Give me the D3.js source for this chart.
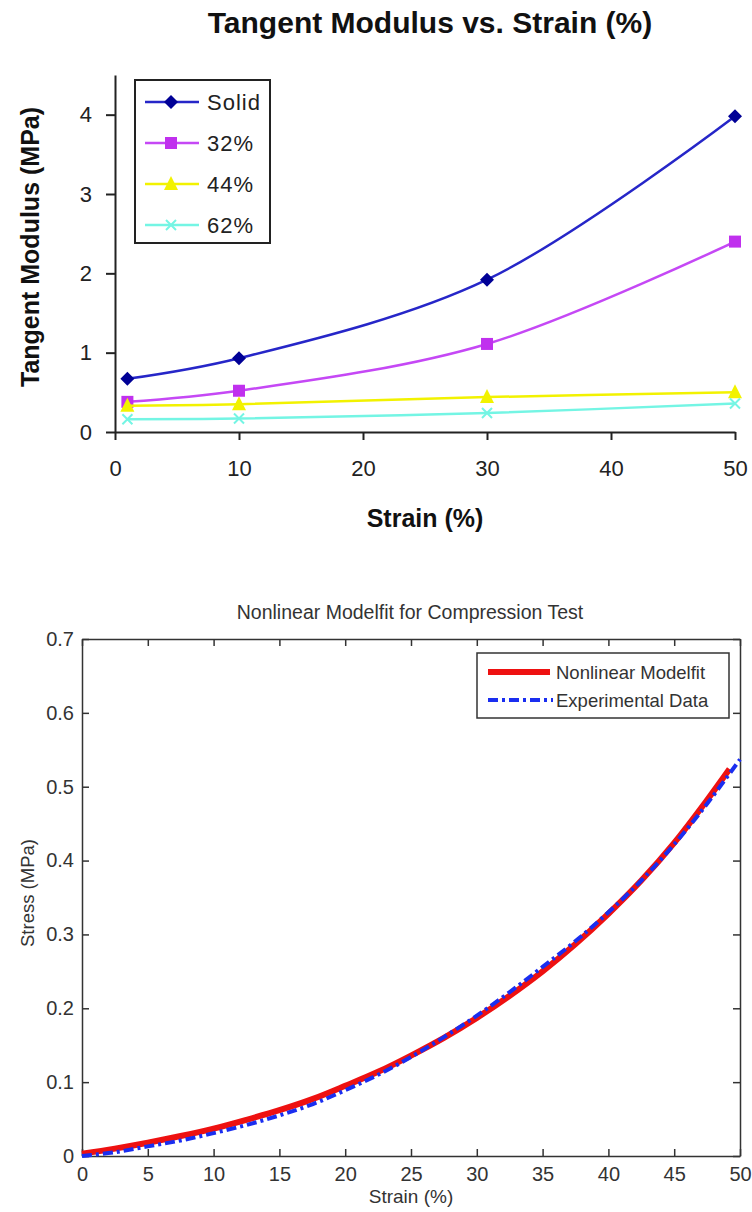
<!DOCTYPE html>
<html>
<head>
<meta charset="utf-8">
<script src="https://cdn.jsdelivr.net/npm/d3@7"></script>
<style>
  body { margin: 0; background: #fff; }
  svg { display: block; }
  text { font-family: "Liberation Sans", Arial, sans-serif; }
</style>
</head>
<body>
<div id="chart"></div>
<script>
// --- top chart data (Excel style) ---
var strainPts = [1, 10, 30, 50];
var seriesNames = ["Solid", "32%", "44%", "62%"];
var solidVals = [0.67, 0.93, 1.92, 3.98];
var p32Vals = [0.38, 0.52, 1.11, 2.40];
var p44Vals = [0.33, 0.35, 0.44, 0.50];
var p62Vals = [0.16, 0.17, 0.24, 0.36];
var topXTicks = [0, 10, 20, 30, 40, 50];
var topYTicks = [0, 1, 2, 3, 4];

// --- bottom chart data (MATLAB style) ---
var fitStrain = [0, 2.5, 5, 7.5, 10, 12.5, 15, 17.5, 20, 22.5, 25, 27.5, 30, 32.5, 35, 37.5, 40, 42.5, 45, 47.5, 49.2];
var fitStress = [0.003, 0.010, 0.018, 0.027, 0.037, 0.049, 0.062, 0.077, 0.095, 0.114, 0.136, 0.160, 0.187, 0.217, 0.250, 0.287, 0.328, 0.373, 0.424, 0.482, 0.524];
var expStrain = [0, 2.5, 5, 7.5, 10, 12.5, 15, 17.5, 20, 22.5, 25, 27.5, 30, 32.5, 35, 37.5, 40, 42.5, 45, 47.5, 50];
var expStress = [0.000, 0.005, 0.013, 0.021, 0.031, 0.042, 0.055, 0.070, 0.089, 0.110, 0.134, 0.161, 0.190, 0.222, 0.256, 0.291, 0.330, 0.373, 0.422, 0.477, 0.537];
var botXTicks = [0, 5, 10, 15, 20, 25, 30, 35, 40, 45, 50];
var botYTicks = [0, 0.1, 0.2, 0.3, 0.4, 0.5, 0.6, 0.7];

var width = 752, height = 1212;

var svg = d3.select("#chart").append("svg")
    .attr("width", width)
    .attr("height", height);

// ================= top chart =================
var x = d3.scaleLinear().domain([0, 50]).range([115, 735]);
var y = d3.scaleLinear().domain([0, 4.5]).range([432, 75]);

var lineColors = ["#2626c8", "#c548f5", "#f2f200", "#74f5e4"];
var markColors = ["#000096", "#c030ee", "#f2f200", "#74f5e4"];
var allVals = [solidVals, p32Vals, p44Vals, p62Vals];

svg.append("text")
    .attr("x", 430).attr("y", 33)
    .attr("text-anchor", "middle")
    .attr("font-size", "30px").attr("font-weight", "bold")
    .attr("fill", "#111")
    .text("Tangent Modulus vs. Strain (%)");

var gy = svg.append("g")
    .attr("transform", "translate(115,0)")
    .call(d3.axisLeft(y).tickValues(topYTicks).tickSize(9).tickSizeOuter(0).tickPadding(14).tickFormat(d3.format("d")));
var gx = svg.append("g")
    .attr("transform", "translate(0,432)")
    .call(d3.axisBottom(x).tickValues(topXTicks).tickSize(8).tickSizeOuter(0).tickPadding(20).tickFormat(d3.format("d")));
[gx, gy].forEach(function (g) {
    g.selectAll("path, line").attr("stroke", "#222").attr("stroke-width", 2);
    g.selectAll("text").attr("font-size", "22px").attr("fill", "#222")
        .attr("font-family", "'Liberation Sans', Arial, sans-serif");
});

svg.append("text")
    .attr("x", 425).attr("y", 527)
    .attr("text-anchor", "middle")
    .attr("font-size", "25px").attr("font-weight", "bold").attr("fill", "#111")
    .text("Strain (%)");

svg.append("text")
    .attr("transform", "translate(39,247)rotate(-90)")
    .attr("text-anchor", "middle")
    .attr("font-size", "25px").attr("font-weight", "bold").attr("fill", "#111")
    .text("Tangent Modulus (MPa)");

var smooth = d3.line()
    .x(function (d) { return x(d[0]); })
    .y(function (d) { return y(d[1]); })
    .curve(d3.curveCatmullRom.alpha(0.5));

function drawMarker(g, i, cx, cy) {
    if (i === 0) {
        g.append("path").attr("d", "M" + cx + "," + (cy - 7) + "L" + (cx + 7) + "," + cy + "L" + cx + "," + (cy + 7) + "L" + (cx - 7) + "," + cy + "Z")
            .attr("fill", markColors[0]);
    } else if (i === 1) {
        g.append("rect").attr("x", cx - 6).attr("y", cy - 6).attr("width", 12).attr("height", 12)
            .attr("fill", markColors[1]);
    } else if (i === 2) {
        g.append("path").attr("d", "M" + cx + "," + (cy - 8) + "L" + (cx + 7) + "," + (cy + 6) + "L" + (cx - 7) + "," + (cy + 6) + "Z")
            .attr("fill", markColors[2]);
    } else {
        g.append("path").attr("d", "M" + (cx - 5) + "," + (cy - 5) + "L" + (cx + 5) + "," + (cy + 5) + "M" + (cx + 5) + "," + (cy - 5) + "L" + (cx - 5) + "," + (cy + 5))
            .attr("stroke", markColors[3]).attr("stroke-width", 2);
    }
}

var plot = svg.append("g");
allVals.forEach(function (vals, i) {
    var pts = strainPts.map(function (s, j) { return [s, vals[j]]; });
    plot.append("path")
        .attr("d", smooth(pts))
        .attr("fill", "none")
        .attr("stroke", lineColors[i])
        .attr("stroke-width", 2.5);
    pts.forEach(function (p) { drawMarker(plot, i, x(p[0]), y(p[1])); });
});

// legend top
var leg = svg.append("g");
leg.append("rect").attr("x", 135).attr("y", 80).attr("width", 135).attr("height", 163)
    .attr("fill", "#fff").attr("stroke", "#222").attr("stroke-width", 2);
seriesNames.forEach(function (name, i) {
    var ly = 102 + i * 41;
    leg.append("line").attr("x1", 145).attr("x2", 199).attr("y1", ly).attr("y2", ly)
        .attr("stroke", lineColors[i]).attr("stroke-width", 2.5);
    drawMarker(leg, i, 171, ly);
    leg.append("text").attr("x", 207).attr("y", ly + 8)
        .attr("font-size", "22px").attr("fill", "#222").attr("letter-spacing", "1px")
        .text(name);
});

// ================= bottom chart =================
var x2 = d3.scaleLinear().domain([0, 50]).range([82, 740]);
var y2 = d3.scaleLinear().domain([0, 0.7]).range([1156, 639]);

svg.append("text")
    .attr("x", 410).attr("y", 619)
    .attr("text-anchor", "middle")
    .attr("font-size", "19.5px").attr("fill", "#333")
    .text("Nonlinear Modelfit for Compression Test");

svg.append("rect")
    .attr("x", 82).attr("y", 639).attr("width", 658).attr("height", 517)
    .attr("fill", "#fff");

var b = svg.append("g");
var bxB = b.append("g").attr("transform", "translate(0,1156)")
    .call(d3.axisBottom(x2).tickValues(botXTicks).tickSize(-7).tickSizeOuter(0).tickPadding(11).tickFormat(d3.format("d")));
var bxT = b.append("g").attr("transform", "translate(0,639)")
    .call(d3.axisTop(x2).tickValues(botXTicks).tickSize(-7).tickSizeOuter(0).tickFormat(""));
var byL = b.append("g").attr("transform", "translate(82,0)")
    .call(d3.axisLeft(y2).tickValues(botYTicks).tickSize(-7).tickSizeOuter(0).tickPadding(8).tickFormat(function (d) { return d === 0 ? "0" : d3.format(".1f")(d); }));
var byR = b.append("g").attr("transform", "translate(740,0)")
    .call(d3.axisRight(y2).tickValues(botYTicks).tickSize(-7).tickSizeOuter(0).tickFormat(""));
[bxB, bxT, byL, byR].forEach(function (g) {
    g.selectAll("path, line").attr("stroke", "#333").attr("stroke-width", 1.5);
    g.selectAll("text").attr("font-size", "20px").attr("fill", "#333")
        .attr("font-family", "'Liberation Sans', Arial, sans-serif");
});

svg.append("text")
    .attr("x", 411).attr("y", 1203)
    .attr("text-anchor", "middle")
    .attr("font-size", "19px").attr("fill", "#333")
    .text("Strain (%)");
svg.append("text")
    .attr("transform", "translate(34,893)rotate(-90)")
    .attr("text-anchor", "middle")
    .attr("font-size", "18.5px").attr("fill", "#333")
    .text("Stress (MPa)");

var line2 = d3.line()
    .x(function (d) { return x2(d[0]); })
    .y(function (d) { return y2(d[1]); })
    .curve(d3.curveCatmullRom.alpha(0.5));

var fitPts = fitStrain.map(function (s, i) { return [s, fitStress[i]]; });
var expPts = expStrain.map(function (s, i) { return [s, expStress[i]]; });

b.append("path").attr("d", line2(fitPts))
    .attr("fill", "none").attr("stroke", "#ee1111").attr("stroke-width", 6);
b.append("path").attr("d", line2(expPts))
    .attr("fill", "none").attr("stroke", "#1a2ef0").attr("stroke-width", 4)
    .attr("stroke-dasharray", "10,4,3,4");

// legend bottom
var leg2 = svg.append("g");
leg2.append("rect").attr("x", 477).attr("y", 653).attr("width", 252).attr("height", 65)
    .attr("fill", "#fff").attr("stroke", "#333").attr("stroke-width", 1.5);
leg2.append("line").attr("x1", 488).attr("x2", 550).attr("y1", 672).attr("y2", 672)
    .attr("stroke", "#ee1111").attr("stroke-width", 6);
leg2.append("line").attr("x1", 488).attr("x2", 553).attr("y1", 700).attr("y2", 700)
    .attr("stroke", "#1a2ef0").attr("stroke-width", 4).attr("stroke-dasharray", "10,4,3,4");
leg2.append("text").attr("x", 556).attr("y", 679)
    .attr("font-size", "18.5px").attr("fill", "#333").text("Nonlinear Modelfit");
leg2.append("text").attr("x", 556).attr("y", 707)
    .attr("font-size", "18.5px").attr("fill", "#333").text("Experimental Data");
</script>
</body>
</html>
